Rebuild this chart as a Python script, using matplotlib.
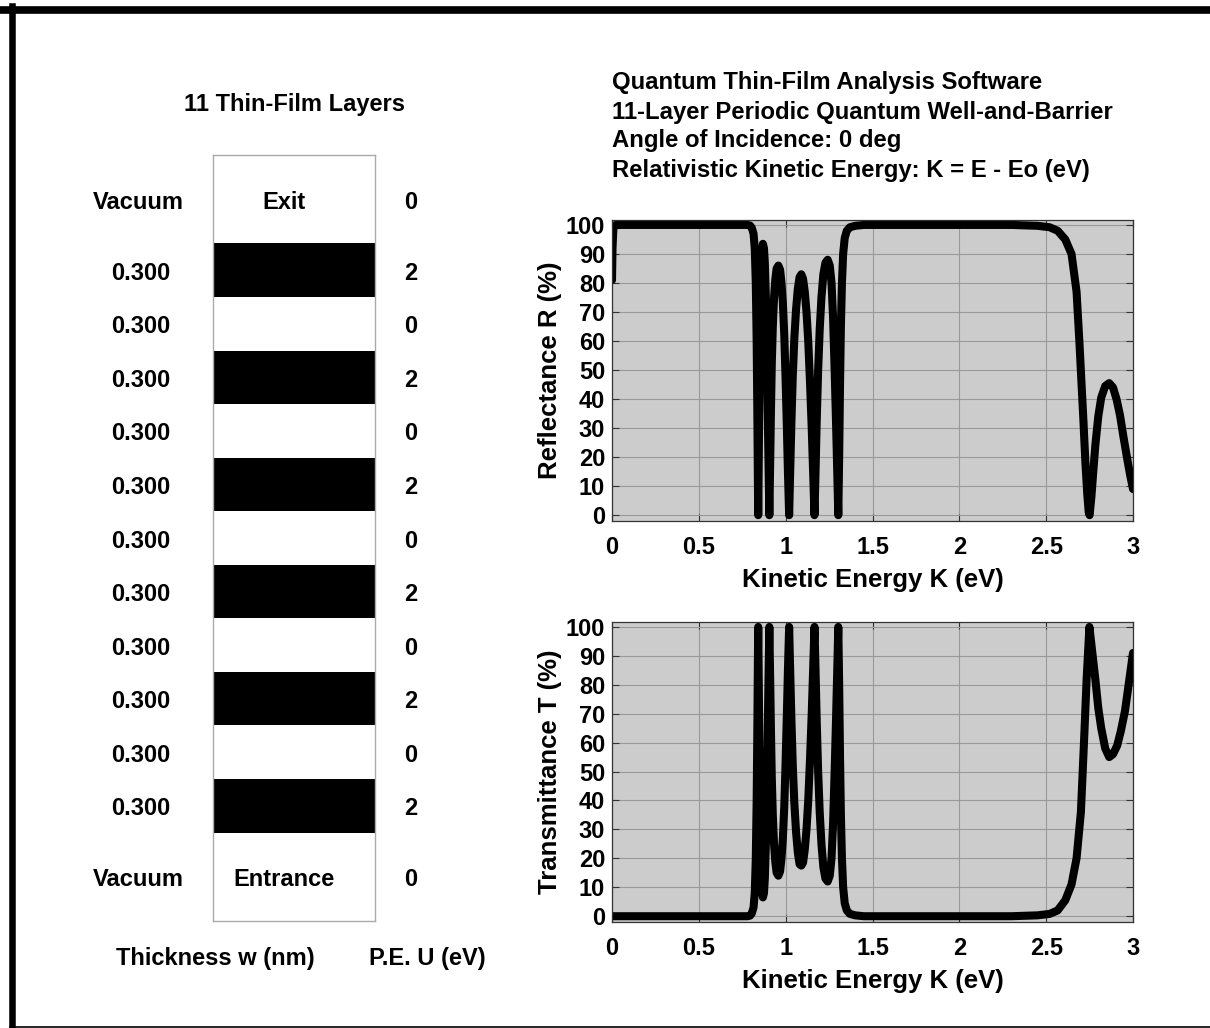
import numpy as np
import matplotlib.pyplot as plt
from matplotlib.lines import Line2D
from matplotlib.patches import Rectangle

plt.rcParams['font.family'] = ['Liberation Sans', 'DejaVu Sans']
plt.rcParams['font.weight'] = 'bold'

# layer stack (exit side on top)
n_layers = 11
thickness = ['0.300'] * n_layers
potential = [2, 0, 2, 0, 2, 0, 2, 0, 2, 0, 2]

# reflectance
K_R = [0.000, 0.003, 0.008, 0.020, 0.780, 0.795, 0.805, 0.815, 0.822, 0.828,
       0.833, 0.837, 0.840, 0.842,
       0.846, 0.850, 0.854, 0.859, 0.864, 0.869, 0.875, 0.880, 0.886, 0.892,
       0.897, 0.902, 0.906,
       0.910, 0.915, 0.920, 0.926, 0.933, 0.940, 0.948, 0.958, 0.968, 0.976,
       0.984, 0.992, 1.000, 1.007, 1.013, 1.020,
       1.026, 1.033, 1.041, 1.050, 1.060, 1.070, 1.080, 1.090, 1.100, 1.110,
       1.120, 1.130, 1.140, 1.150, 1.158, 1.166,
       1.172, 1.179, 1.187, 1.196, 1.206, 1.217, 1.229, 1.242, 1.254, 1.264,
       1.273, 1.282, 1.290, 1.297, 1.303,
       1.308, 1.313, 1.318, 1.324, 1.331, 1.340, 1.352, 1.370, 1.400, 1.450,
       2.300, 2.450, 2.520, 2.566, 2.610, 2.646, 2.675, 2.692, 2.703, 2.715,
       2.726, 2.737, 2.745, 2.750, 2.760, 2.770, 2.783, 2.800, 2.817, 2.840,
       2.863, 2.885, 2.905, 2.925, 2.945, 2.965, 2.983, 3.000]
R = [81, 92, 99, 100, 100, 99.8, 99, 97, 92, 80,
     60, 35, 12, 0,
     25, 50, 70, 84, 91, 93.5, 92, 87, 75, 55,
     35, 15, 0,
     15, 35, 52, 65, 75, 81, 85, 86, 84.5, 80,
     73, 62, 46, 30, 15, 0,
     15, 32, 48, 61, 71, 78, 82, 83, 81.5, 77,
     70, 60, 46, 30, 15, 0,
     15, 33, 50, 64, 75, 83, 87, 88, 86, 80,
     68, 50, 32, 15, 0,
     20, 45, 65, 80, 90, 95.5, 98, 99.2, 99.7, 100,
     100, 99.7, 99.2, 98, 95, 90, 77, 59, 46, 32,
     18, 7, 1, 0, 6, 14, 24, 34, 40.5, 44.5,
     45.5, 44, 40, 34.5, 27, 20, 14, 9]

# transmittance
K_T = [0.000, 0.780, 0.795, 0.805, 0.815, 0.822, 0.828, 0.833, 0.837, 0.840, 0.842,
       0.846, 0.850, 0.854, 0.859, 0.864, 0.869, 0.875, 0.880, 0.886, 0.892,
       0.897, 0.902, 0.906,
       0.910, 0.915, 0.920, 0.926, 0.933, 0.940, 0.948, 0.958, 0.968, 0.976,
       0.984, 0.992, 1.000, 1.007, 1.013, 1.020,
       1.026, 1.033, 1.041, 1.050, 1.060, 1.070, 1.080, 1.090, 1.100, 1.110,
       1.120, 1.130, 1.140, 1.150, 1.158, 1.166,
       1.172, 1.179, 1.187, 1.196, 1.206, 1.217, 1.229, 1.242, 1.254, 1.264,
       1.273, 1.282, 1.290, 1.297, 1.303,
       1.308, 1.313, 1.318, 1.324, 1.331, 1.340, 1.352, 1.370, 1.400, 1.450,
       2.300, 2.450, 2.520, 2.566, 2.610, 2.646, 2.675, 2.700, 2.717, 2.733,
       2.749, 2.766, 2.783, 2.800, 2.817, 2.840, 2.863, 2.885, 2.909, 2.930,
       2.954, 2.977, 3.000]
T = [0, 0, 0.2, 1, 3, 8, 20, 40, 65, 88, 100,
     75, 50, 30, 16, 9, 6.5, 8, 13, 25, 45,
     65, 85, 100,
     85, 65, 48, 35, 25, 19, 15, 14, 15.5, 20,
     27, 38, 54, 70, 85, 100,
     85, 68, 52, 39, 29, 22, 18, 17.5, 18.5, 23,
     30, 40, 54, 70, 85, 100,
     85, 67, 50, 36, 25, 17, 13, 12, 14, 20,
     32, 50, 68, 85, 100,
     80, 55, 35, 20, 10, 4.5, 2, 0.8, 0.3, 0,
     0, 0.3, 0.8, 2, 5.5, 11, 20, 36, 59, 82,
     100, 91, 82, 72, 65, 58, 55, 56, 59, 64,
     71, 81, 91]

xticks = [0, 0.5, 1, 1.5, 2, 2.5, 3]
xticklabels = ['0', '0.5', '1', '1.5', '2', '2.5', '3']
yticks = list(range(0, 101, 10))

W, H = 1210, 1028
fig = plt.figure(figsize=(W / 100, H / 100), dpi=100)


def fx(px):
    return px / W


def fy(py):
    return 1 - py / H


# frame lines around the figure
fig.add_artist(Line2D([0, 1], [fy(9.5), fy(9.5)], color='black', lw=5.5))
fig.add_artist(Line2D([fx(12.3), fx(12.3)], [fy(6), fy(1027)], color='black', lw=4.7))
fig.add_artist(Line2D([fx(10), 1], [fy(1026.5), fy(1026.5)], color='black', lw=1.2))

fs = 17
# ---- layer stack diagram ----
end_h = 1.65
ax0 = fig.add_axes([fx(213), fy(921), fx(375 - 213), fy(155) - fy(921)])
ax0.set_xlim(0, 1)
ax0.set_ylim(0, n_layers + 2 * end_h)
ax0.set_xticks([])
ax0.set_yticks([])
for s in ax0.spines.values():
    s.set_color('#aaaaaa')
    s.set_linewidth(1)

dy = -3 / (921 - 155) * (n_layers + 2 * end_h)  # small downward nudge
top = end_h + n_layers
for i in range(n_layers):
    y0 = top - (i + 1)
    if potential[i] > 0:
        ax0.add_patch(Rectangle((0, y0), 1, 1, color='black', lw=0))
    ax0.text(-0.444, y0 + 0.5 + dy, thickness[i], ha='center', va='center', fontsize=fs,
             fontweight='bold', clip_on=False)
    ax0.text(1.222, y0 + 0.5 + dy, str(potential[i]), ha='center', va='center', fontsize=fs,
             fontweight='bold', clip_on=False)

y_exit = top + end_h / 2 + dy
y_ent = end_h / 2 + dy
for yy, name in [(y_exit, 'Exit'), (y_ent, 'Entrance')]:
    ax0.text(-0.46, yy, 'Vacuum', ha='center', va='center', fontsize=fs,
             fontweight='bold', clip_on=False)
    ax0.text(0.44, yy, name, ha='center', va='center', fontsize=fs, fontweight='bold')
    ax0.text(1.222, yy, '0', ha='center', va='center', fontsize=fs,
             fontweight='bold', clip_on=False)

fig.text(fx(295), fy(105), '11 Thin-Film Layers', ha='center', va='center',
         fontsize=fs, fontweight='bold')
fig.text(fx(215), fy(959), 'Thickness w (nm)', ha='center', va='center',
         fontsize=fs, fontweight='bold')
fig.text(fx(427), fy(959), 'P.E. U (eV)', ha='center', va='center',
         fontsize=fs, fontweight='bold')

# ---- titles ----
titles = ['Quantum Thin-Film Analysis Software',
          '11-Layer Periodic Quantum Well-and-Barrier',
          'Angle of Incidence: 0 deg',
          'Relativistic Kinetic Energy: K = E - Eo (eV)']
for k, t in enumerate(titles):
    fig.text(fx(612), fy(83 + 29 * k), t, ha='left', va='center',
             fontsize=17.2, fontweight='bold')


def style(ax, ylabel):
    ax.set_facecolor('#cccccc')
    ax.set_xlim(0, 3)
    ax.set_ylim(-2, 101.7)
    ax.set_xticks(xticks)
    ax.set_xticklabels(xticklabels)
    ax.set_yticks(yticks)
    ax.grid(True, color='#999999', lw=0.8)
    ax.set_axisbelow(True)
    ax.tick_params(direction='in', top=True, right=True, labelsize=fs,
                   length=5, width=0.8, color='#333333')
    ax.tick_params(axis='x', pad=11)
    ax.tick_params(axis='y', pad=5)
    for lab in ax.get_xticklabels() + ax.get_yticklabels():
        lab.set_fontweight('bold')
    for s in ax.spines.values():
        s.set_color('#333333')
        s.set_linewidth(0.9)
    ax.set_xlabel('Kinetic Energy K (eV)', fontsize=18.5, fontweight='bold', labelpad=6)
    ax.set_ylabel(ylabel, fontsize=18.5, fontweight='bold', labelpad=3)


ax1 = fig.add_axes([fx(612), fy(521), fx(1133 - 612), fy(220) - fy(521)])
ax1.plot(K_R, R, color='black', lw=5.8, solid_joinstyle='round', solid_capstyle='round')
style(ax1, 'Reflectance R (%)')

ax2 = fig.add_axes([fx(612), fy(922), fx(1133 - 612), fy(622) - fy(922)])
ax2.plot(K_T, T, color='black', lw=5.8, solid_joinstyle='round', solid_capstyle='round')
style(ax2, 'Transmittance T (%)')

fig.savefig('out.png', dpi=100)
